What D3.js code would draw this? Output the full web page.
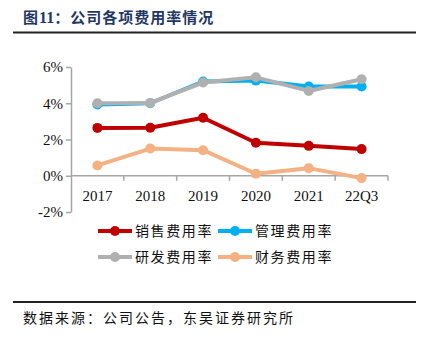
<!DOCTYPE html>
<html>
<head>
<meta charset="utf-8">
<script src="https://cdn.jsdelivr.net/npm/d3@7"></script>
<style>
  html, body { margin: 0; padding: 0; background: #fff; }
</style>
</head>
<body>
<div id="chart"></div>
<script>
const categories = ['2017', '2018', '2019', '2020', '2021', '22Q3'];
const yTicks = [-2, 0, 2, 4, 6];

const salesRate = [2.64, 2.65, 3.2, 1.82, 1.65, 1.47];
const adminRate = [3.93, 4.0, 5.2, 5.25, 4.92, 4.92];
const rndRate = [4.0, 4.02, 5.14, 5.43, 4.68, 5.32];
const financeRate = [0.57, 1.5, 1.41, 0.11, 0.42, -0.13];

const seriesNames = ['销售费用率', '管理费用率', '研发费用率', '财务费用率'];
const seriesColors = ['#C00000', '#00B0F0', '#B0B0B0', '#F4B183'];

const width = 422, height = 345;
const margin = { top: 67, right: 34, bottom: 133, left: 71 };

const svg = d3.select('#chart').append('svg')
  .attr('width', width)
  .attr('height', height)
  .style('font-family', '"Noto Sans CJK SC", sans-serif');

// title
const title = svg.append('text')
  .attr('x', 23)
  .attr('y', 23)
  .attr('fill', '#1F3864')
  .style('font-size', '15px')
  .style('font-weight', 'bold')
  .style('letter-spacing', '1px');
title.append('tspan').text('图');
title.append('tspan').style('font-family', '"Liberation Serif", serif').style('font-size', '16px').style('letter-spacing', '0px').text('11');
title.append('tspan').text('：公司各项费用率情况');

svg.append('line')
  .attr('x1', 13).attr('x2', 416)
  .attr('y1', 32.5).attr('y2', 32.5)
  .attr('stroke', '#222').attr('stroke-width', 2);

svg.append('line')
  .attr('x1', 13).attr('x2', 416)
  .attr('y1', 302).attr('y2', 302)
  .attr('stroke', '#222').attr('stroke-width', 2);

svg.append('text')
  .attr('x', 23)
  .attr('y', 323)
  .attr('fill', '#111')
  .style('font-size', '14px')
  .style('letter-spacing', '2px')
  .text('数据来源：公司公告，东吴证券研究所');

const x = d3.scaleBand()
  .domain(categories)
  .range([margin.left, width - margin.right]);

const y = d3.scaleLinear()
  .domain([-2, 6])
  .range([height - margin.bottom, margin.top]);

const axisColor = '#A6A6A6';

// y axis
svg.append('g')
  .attr('transform', `translate(${margin.left},0)`)
  .call(d3.axisLeft(y).tickValues(yTicks).tickFormat(d => d + '%').tickSize(5).tickSizeOuter(0))
  .call(g => g.select('.domain').attr('stroke', axisColor).attr('stroke-width', 1.5))
  .call(g => g.selectAll('.tick line').attr('stroke', axisColor).attr('stroke-width', 1.5))
  .call(g => g.selectAll('.tick text')
    .attr('x', -8)
    .attr('fill', '#111')
    .style('font-family', '"Liberation Serif", serif')
    .style('font-size', '15px'));

// x axis at 0%
const xAxis = svg.append('g')
  .attr('transform', `translate(0,${y(0)})`);
xAxis.append('line')
  .attr('x1', margin.left).attr('x2', width - margin.right)
  .attr('stroke', axisColor).attr('stroke-width', 1.5);
xAxis.selectAll('.xtick')
  .data(categories)
  .join('line')
  .attr('x1', d => x(d) + x.bandwidth()).attr('x2', d => x(d) + x.bandwidth())
  .attr('y1', 0).attr('y2', 5)
  .attr('stroke', axisColor).attr('stroke-width', 1.5);
xAxis.selectAll('.xlabel')
  .data(categories)
  .join('text')
  .attr('x', d => x(d) + x.bandwidth() / 2)
  .attr('y', 25)
  .attr('text-anchor', 'middle')
  .attr('fill', '#111')
  .style('font-family', '"Liberation Serif", serif')
  .style('font-size', '15px')
  .text(d => d);

const allSeries = [salesRate, adminRate, rndRate, financeRate];
const line = d3.line()
  .x((d, i) => x(categories[i]) + x.bandwidth() / 2)
  .y(d => y(d));

allSeries.forEach((values, s) => {
  svg.append('path')
    .datum(values)
    .attr('fill', 'none')
    .attr('stroke', seriesColors[s])
    .attr('stroke-width', 4)
    .attr('stroke-linejoin', 'round')
    .attr('d', line);
  svg.selectAll(null)
    .data(values)
    .join('circle')
    .attr('cx', (d, i) => x(categories[i]) + x.bandwidth() / 2)
    .attr('cy', d => y(d))
    .attr('r', 5)
    .attr('fill', seriesColors[s]);
});

// legend
const legendPos = [[98, 231], [218, 231], [98, 257], [218, 257]];
const legend = svg.append('g')
  .selectAll('g')
  .data(seriesNames)
  .join('g')
  .attr('transform', (d, i) => `translate(${legendPos[i][0]},${legendPos[i][1]})`);

legend.append('line')
  .attr('x1', 0).attr('x2', 34)
  .attr('stroke', (d, i) => seriesColors[i])
  .attr('stroke-width', 4);
legend.append('circle')
  .attr('cx', 17).attr('r', 5)
  .attr('fill', (d, i) => seriesColors[i]);
legend.append('text')
  .attr('x', 37)
  .attr('y', 5)
  .attr('fill', '#111')
  .style('font-size', '14px')
  .style('letter-spacing', '1.6px')
  .text(d => d);
</script>
</body>
</html>
